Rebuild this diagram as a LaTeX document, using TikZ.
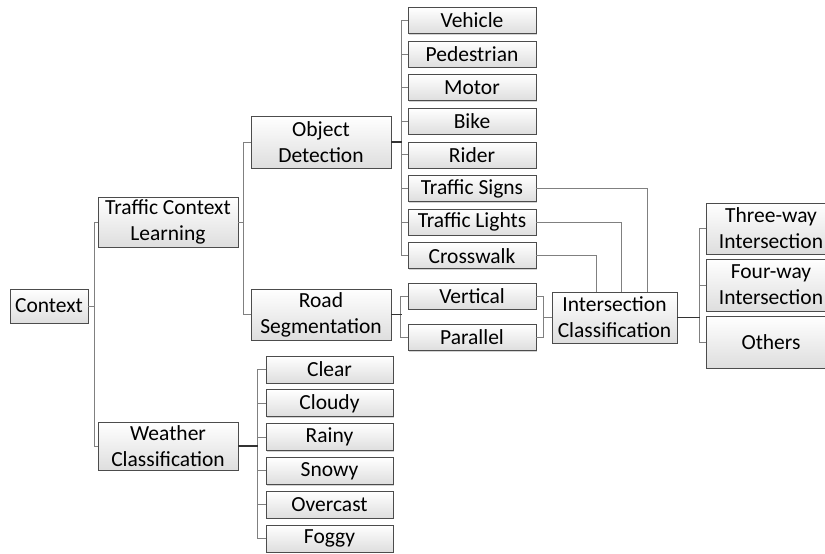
\documentclass[tikz,border=0pt]{standalone}
\usepackage{fontspec}
\setmainfont{Carlito}
\usetikzlibrary{shadows}
\begin{document}
\begin{tikzpicture}[x=1pt,y=1pt,
  box/.style={draw=black!70, line width=0.7pt, top color=white, bottom color=black!13,
    drop shadow={shadow xshift=1.2pt, shadow yshift=-1.2pt, opacity=0.35},
    align=center, inner sep=0pt, font=\fontsize{21.5}{26}\selectfont},
  conn/.style={draw=black!50, line width=0.8pt},
  stub/.style={draw=black!80, line width=1.3pt}]
\useasboundingbox (0,0) rectangle (825,554);
% helper: y(py) = 554 - py
\node[box, minimum width=78, minimum height=34] (ctx) at (49,248) {Context};
\node[box, minimum width=140, minimum height=50] (tcl) at (168,332) {Traffic Context\\Learning};
\node[box, minimum width=140, minimum height=48] (wc) at (168,108) {Weather\\Classification};
\node[box, minimum width=140, minimum height=52] (od) at (321,412) {Object\\Detection};
\node[box, minimum width=140, minimum height=51] (rs) at (321,239.5) {Road\\Segmentation};
% object children
\foreach \n/\t/\y in {veh/Vehicle/20.5, ped/Pedestrian/54.1, mot/Motor/87.7, bik/Bike/121.3,
  rid/Rider/154.9, sig/Traffic Signs/188.5, lig/Traffic Lights/222.1, cro/Crosswalk/255.7}
  \node[box, minimum width=128, minimum height=26] (\n) at (472,554-\y) {\t};
\node[box, minimum width=128, minimum height=26] (ver) at (472,258) {Vertical};
\node[box, minimum width=128, minimum height=26] (par) at (472,216.5) {Parallel};
\node[box, minimum width=125, minimum height=51] (ic) at (614.5,236.5) {Intersection\\Classification};
\node[box, minimum width=130, minimum height=51] (thr) at (771,325.5) {Three-way\\Intersection};
\node[box, minimum width=130, minimum height=52] (fou) at (771,269) {Four-way\\Intersection};
\node[box, minimum width=130, minimum height=52] (oth) at (771,212) {Others};
% weather children
\foreach \n/\t/\y in {cle/Clear/369.5, clo/Cloudy/403.3, rai/Rainy/437.1, sno/Snowy/470.9,
  ove/Overcast/504.7, fog/Foggy/538.5}
  \node[box, minimum width=127, minimum height=27] (\n) at (329.5,554-\y) {\t};
% connectors
\foreach \c in {tcl,wc} \draw[conn] (\c.west) -- ++(-3,0) |- (ctx.east);
\foreach \c in {od,rs} \draw[conn] (\c.west) -- ++(-7,0) |- (tcl.east);
\foreach \c in {veh,ped,mot,bik,rid,sig,lig,cro} \draw[conn] (\c.west) -- ++(-6,0) |- (od.east);
\foreach \c in {ver,par} \draw[conn] (\c.west) -- ++(-7,0) |- (rs.east);
\foreach \c in {ver,par} \draw[conn] (\c.east) -- ++(7,0) |- (ic.west);
\foreach \c in {thr,fou,oth} \draw[conn] (\c.west) -- ++(-6,0) |- (ic.east);
\foreach \c in {cle,clo,rai,sno,ove,fog} \draw[conn] (\c.west) -- ++(-8,0) |- (wc.east);
\draw[conn] (sig.east) -| ([xshift=32.5]ic.north);
\draw[conn] (lig.east) -| ([xshift=6.5]ic.north);
\draw[conn] (cro.east) -| ([xshift=-18.5]ic.north);
% darker stubs
\draw[stub] (od.east) -- ++(11,0);
\draw[stub] (rs.east) -- ++(11,0);
\draw[stub] (wc.east) -- ++(20,0);
\draw[stub] (ic.east) -- ++(23,0);
\end{tikzpicture}
\end{document}
